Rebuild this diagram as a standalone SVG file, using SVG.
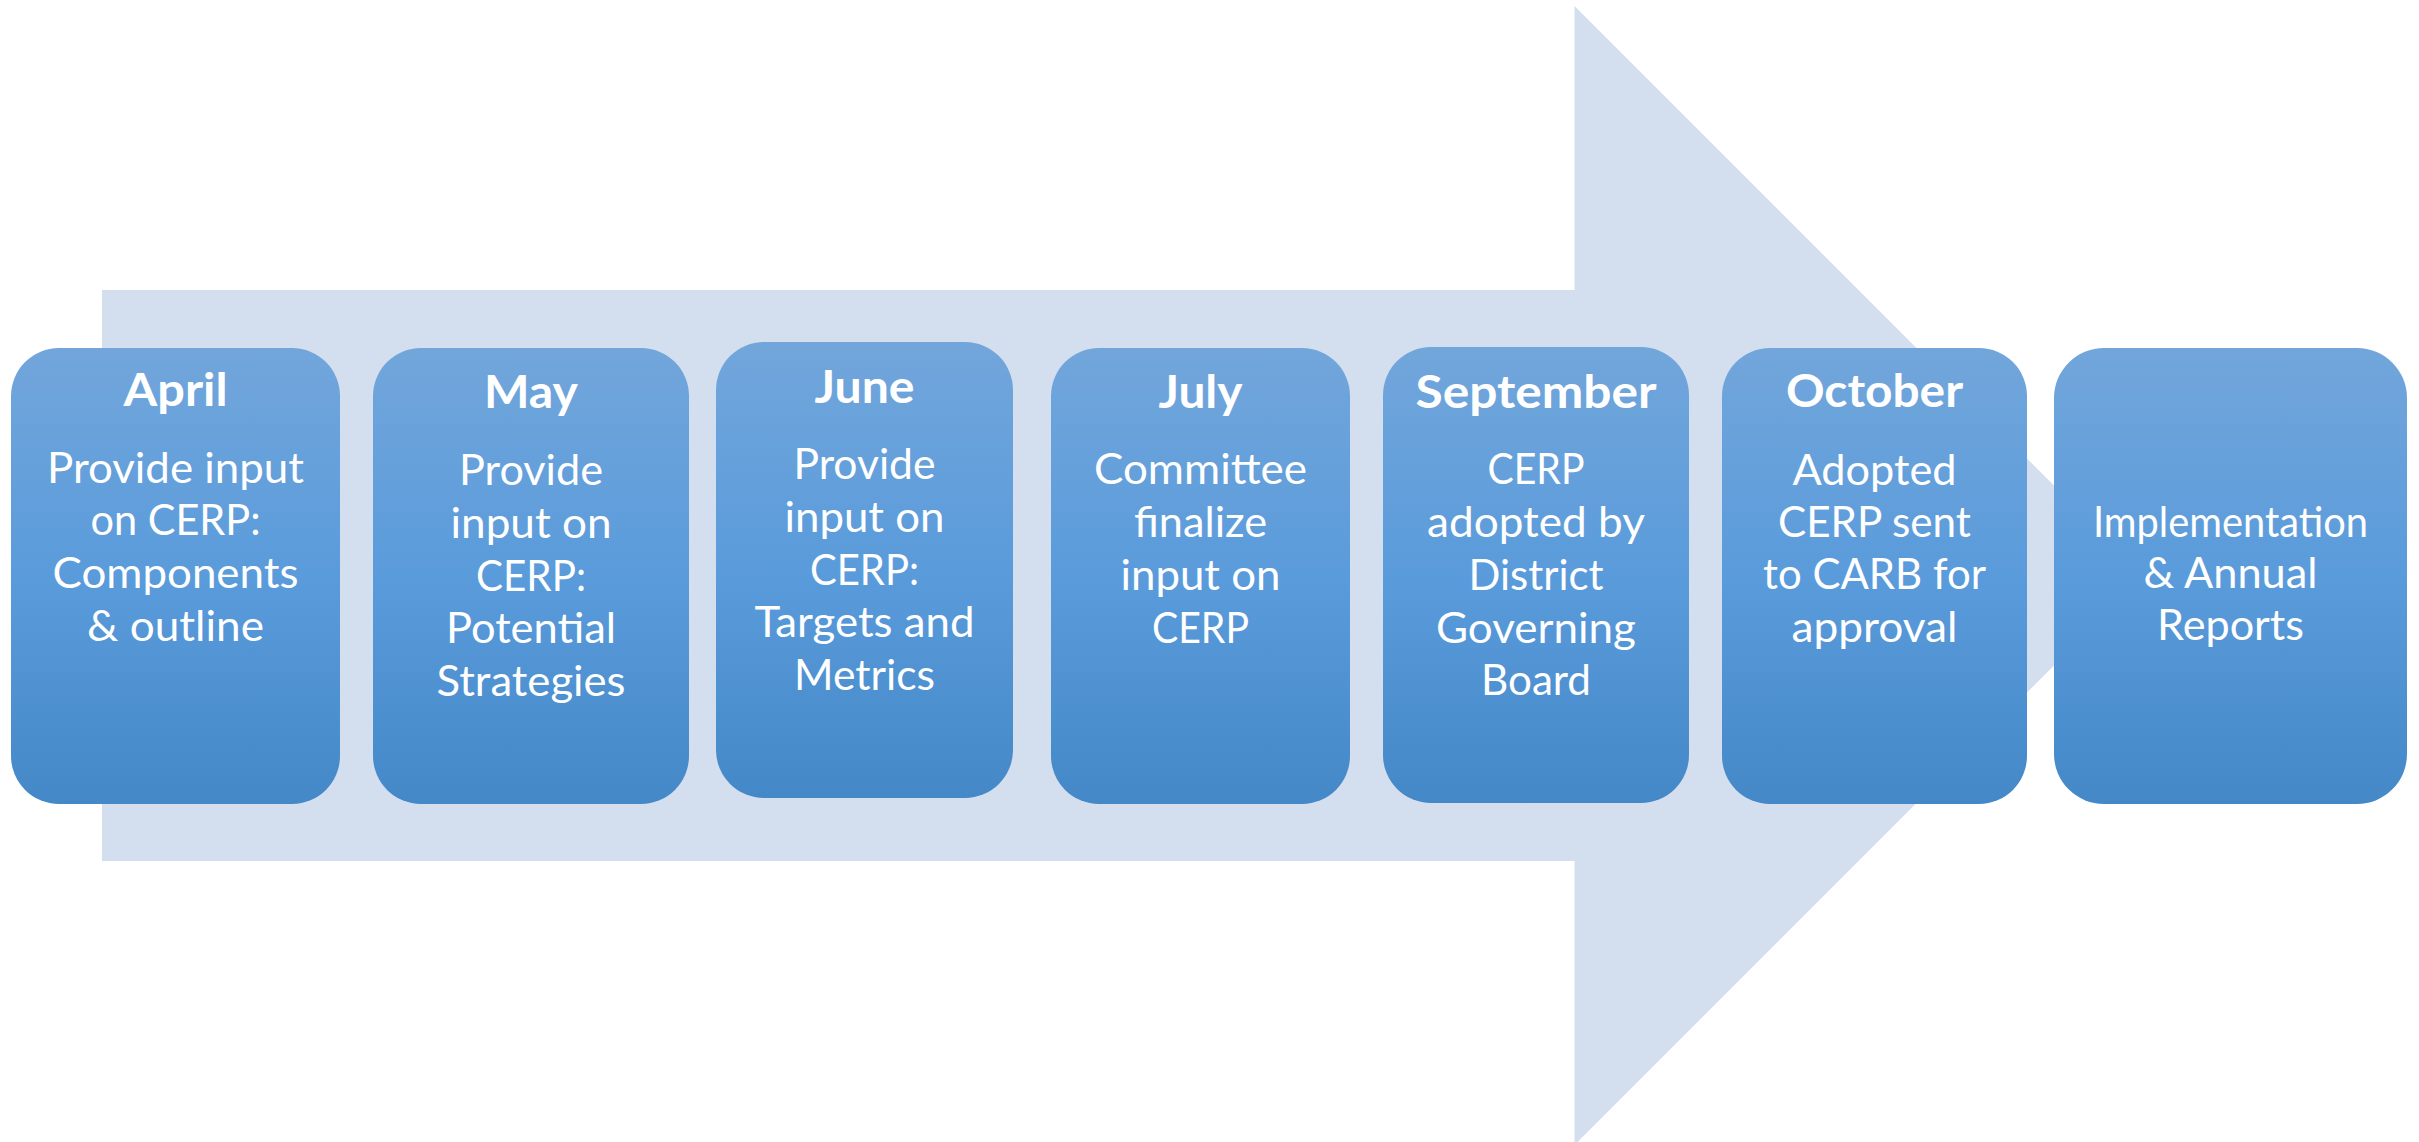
<svg xmlns="http://www.w3.org/2000/svg" width="2419" height="1142" viewBox="0 0 2419 1142">
<defs>
<linearGradient id="boxGrad" x1="0" y1="0" x2="0" y2="1">
<stop offset="0" stop-color="#72a6db"/>
<stop offset="0.5" stop-color="#5a9bdb"/>
<stop offset="1" stop-color="#4488c8"/>
</linearGradient>
</defs>
<style>
.box{fill:url(#boxGrad);}
.title{font-family:Lato,"Liberation Sans",sans-serif;font-weight:bold;font-size:46px;fill:#ffffff;text-anchor:middle;}
.body{font-family:Lato,"Liberation Sans",sans-serif;font-size:42px;fill:#ffffff;text-anchor:middle;}
</style>
<rect width="2419" height="1142" fill="#ffffff"/>
<g id="arrow">
<polygon points="102,290 1574.5,290 1574.5,6 2144,575.5 1574.5,1145 1574.5,861 102,861" fill="#d3deef"/>
</g>
<g id="connectors"></g>
<g id="node-april">
<rect class="box" x="11" y="348" width="329" height="456" rx="48" ry="48"/>
<text class="title" x="175.5" y="406" textLength="104" lengthAdjust="spacingAndGlyphs">April</text>
<text class="body" x="175.5" y="482.5" textLength="257" lengthAdjust="spacingAndGlyphs">Provide input</text>
<text class="body" x="175.5" y="535" textLength="170" lengthAdjust="spacingAndGlyphs">on CERP:</text>
<text class="body" x="175.5" y="588" textLength="246" lengthAdjust="spacingAndGlyphs">Components</text>
<text class="body" x="175.5" y="641" textLength="177" lengthAdjust="spacingAndGlyphs">&amp; outline</text>
</g>
<g id="node-may">
<rect class="box" x="373" y="348" width="316" height="456" rx="48" ry="48"/>
<text class="title" x="531" y="408" textLength="94" lengthAdjust="spacingAndGlyphs">May</text>
<text class="body" x="531" y="485" textLength="144" lengthAdjust="spacingAndGlyphs">Provide</text>
<text class="body" x="531" y="538" textLength="161" lengthAdjust="spacingAndGlyphs">input on</text>
<text class="body" x="531" y="591" textLength="110" lengthAdjust="spacingAndGlyphs">CERP:</text>
<text class="body" x="531" y="643" textLength="170" lengthAdjust="spacingAndGlyphs">Potential</text>
<text class="body" x="531" y="696" textLength="189" lengthAdjust="spacingAndGlyphs">Strategies</text>
</g>
<g id="node-june">
<rect class="box" x="716" y="342" width="297" height="456" rx="48" ry="48"/>
<text class="title" x="864.5" y="403" textLength="100" lengthAdjust="spacingAndGlyphs">June</text>
<text class="body" x="864.5" y="479" textLength="142" lengthAdjust="spacingAndGlyphs">Provide</text>
<text class="body" x="864.5" y="532" textLength="160" lengthAdjust="spacingAndGlyphs">input on</text>
<text class="body" x="864.5" y="585" textLength="109" lengthAdjust="spacingAndGlyphs">CERP:</text>
<text class="body" x="864.5" y="637" textLength="220" lengthAdjust="spacingAndGlyphs">Targets and</text>
<text class="body" x="864.5" y="690" textLength="141" lengthAdjust="spacingAndGlyphs">Metrics</text>
</g>
<g id="node-july">
<rect class="box" x="1051" y="348" width="299" height="456" rx="48" ry="48"/>
<text class="title" x="1200.5" y="408" textLength="84" lengthAdjust="spacingAndGlyphs">July</text>
<text class="body" x="1200.5" y="484" textLength="213" lengthAdjust="spacingAndGlyphs">Committee</text>
<text class="body" x="1200.5" y="537" textLength="133" lengthAdjust="spacingAndGlyphs">finalize</text>
<text class="body" x="1200.5" y="590" textLength="160" lengthAdjust="spacingAndGlyphs">input on</text>
<text class="body" x="1200.5" y="643" textLength="97" lengthAdjust="spacingAndGlyphs">CERP</text>
</g>
<g id="node-september">
<rect class="box" x="1383" y="347" width="306" height="456" rx="48" ry="48"/>
<text class="title" x="1536" y="408" textLength="241" lengthAdjust="spacingAndGlyphs">September</text>
<text class="body" x="1536" y="484" textLength="97" lengthAdjust="spacingAndGlyphs">CERP</text>
<text class="body" x="1536" y="537" textLength="218" lengthAdjust="spacingAndGlyphs">adopted by</text>
<text class="body" x="1536" y="590" textLength="135" lengthAdjust="spacingAndGlyphs">District</text>
<text class="body" x="1536" y="643" textLength="200" lengthAdjust="spacingAndGlyphs">Governing</text>
<text class="body" x="1536" y="695" textLength="110" lengthAdjust="spacingAndGlyphs">Board</text>
</g>
<g id="node-october">
<rect class="box" x="1722" y="348" width="305" height="456" rx="48" ry="48"/>
<text class="title" x="1874.5" y="407" textLength="177" lengthAdjust="spacingAndGlyphs">October</text>
<text class="body" x="1874.5" y="485" textLength="164" lengthAdjust="spacingAndGlyphs">Adopted</text>
<text class="body" x="1874.5" y="537" textLength="193" lengthAdjust="spacingAndGlyphs">CERP sent</text>
<text class="body" x="1874.5" y="589" textLength="223" lengthAdjust="spacingAndGlyphs">to CARB for</text>
<text class="body" x="1874.5" y="642" textLength="166" lengthAdjust="spacingAndGlyphs">approval</text>
</g>
<g id="node-implementation">
<rect class="box" x="2054" y="348" width="353" height="456" rx="50" ry="50"/>
<text class="body" x="2230.5" y="537" textLength="275" lengthAdjust="spacingAndGlyphs">Implementation</text>
<text class="body" x="2230.5" y="588" textLength="174" lengthAdjust="spacingAndGlyphs">&amp; Annual</text>
<text class="body" x="2230.5" y="640" textLength="147" lengthAdjust="spacingAndGlyphs">Reports</text>
</g>
</svg>
